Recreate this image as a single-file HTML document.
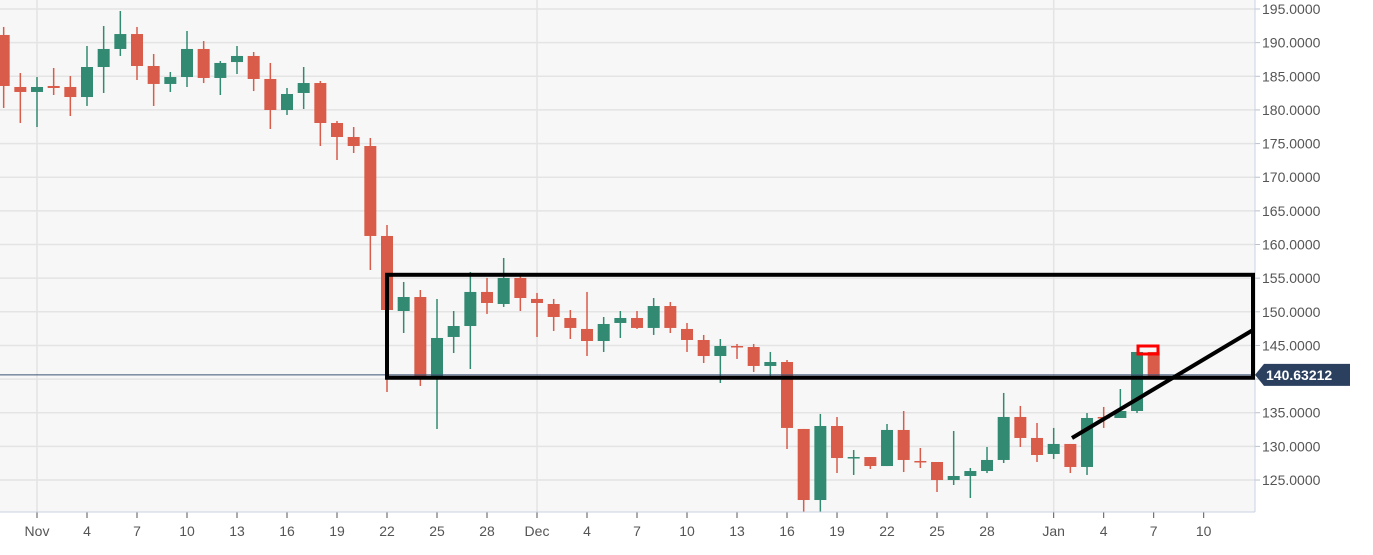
<!DOCTYPE html>
<html><head><meta charset="utf-8"><style>
html,body{margin:0;padding:0;background:#fff;}
svg{display:block;font-family:"Liberation Sans",sans-serif;}
</style></head><body>
<svg id="chart" width="1373" height="555">
<rect x="0" y="0" width="1255" height="512" fill="#f7f7f7"/>
<g id="grid"></g><g id="candles"></g><g id="axes"></g><g id="ann"></g>
</svg>
<script>
const opens=[191.14,183.41,182.67,183.56,183.41,181.92,186.38,189.06,191.28,186.53,183.86,184.89,189.06,184.75,187.12,188.02,184.60,179.99,182.52,184.00,178.06,175.98,174.64,161.27,150.12,152.20,140.31,146.26,147.89,152.95,151.16,155.03,151.91,151.16,149.08,147.45,145.66,148.34,149.08,147.60,150.86,147.45,145.81,143.43,144.92,144.77,141.95,142.54,132.59,122.03,133.03,128.27,128.42,127.08,132.44,127.83,127.68,125.00,125.60,126.34,127.98,134.37,131.25,128.87,130.36,126.94,134.37,134.22,135.26,144.03];
const highs=[192.33,185.49,184.89,186.23,185.04,189.50,192.47,194.70,192.33,188.31,185.64,191.73,190.24,187.27,189.50,188.61,186.98,183.26,186.38,184.30,178.36,177.46,175.83,162.90,154.43,153.24,151.91,150.12,155.92,155.03,158.00,155.62,152.80,151.91,150.27,152.95,149.23,150.12,150.12,152.05,151.46,148.34,146.56,145.96,145.22,145.22,144.03,142.84,132.59,134.82,134.37,129.46,128.42,133.33,135.26,129.76,127.68,132.29,126.79,129.91,137.94,136.01,133.48,132.74,130.36,134.96,135.86,138.53,144.03,144.03];
const lows=[180.29,178.06,177.46,182.22,179.10,180.59,182.52,188.02,184.45,180.59,182.67,183.41,184.00,182.22,185.34,182.81,177.17,179.25,180.14,174.64,172.56,173.60,156.21,138.08,146.85,138.98,132.59,143.88,141.50,149.68,150.72,150.12,146.26,147.15,145.96,143.43,144.03,146.11,147.45,146.56,146.85,144.03,142.39,139.42,142.99,141.06,140.16,129.61,120.25,120.25,126.04,125.75,126.64,127.08,126.19,126.79,123.22,124.26,122.33,126.04,127.53,129.91,127.68,128.13,126.04,125.75,132.74,134.22,134.96,140.31];
const closes=[183.56,182.67,183.41,183.26,181.92,186.38,189.06,191.28,186.53,183.86,184.89,189.06,184.75,186.98,188.02,184.60,179.99,182.37,184.00,178.06,175.98,174.64,161.27,150.27,152.20,140.31,146.11,147.89,152.95,151.31,155.03,152.05,151.31,149.23,147.60,145.66,148.19,149.08,147.60,150.86,147.60,145.81,143.43,144.92,144.77,141.95,142.54,132.74,122.03,133.03,128.27,128.42,127.08,132.44,127.98,127.68,125.00,125.60,126.34,127.98,134.37,131.25,128.72,130.36,126.94,134.22,134.22,135.26,144.03,140.31];
const yTicks=[195,190,185,180,175,170,165,160,155,150,145,140,135,130,125];
const xLabels=["Nov","4","7","10","13","16","19","22","25","28","Dec","4","7","10","13","16","19","22","25","28","Jan","4","7","10"];
const xLabelDays=[0,3,6,9,12,15,18,21,24,27,30,33,36,39,42,45,48,51,54,57,61,64,67,70];
const firstCandleDay=-2;
const lastPrice=140.63212;
const boxTop=155.5, boxBottom=140.2;

const NS="http://www.w3.org/2000/svg";
function yS(p){return 9+(195-p)*6.729;}
function xS(d){return 37+d*16.667;}
function mk(tag,attrs,parent){const e=document.createElementNS(NS,tag);for(const k in attrs)e.setAttribute(k,attrs[k]);parent.appendChild(e);return e;}
const grid=document.getElementById('grid'),cg=document.getElementById('candles'),ax=document.getElementById('axes'),an=document.getElementById('ann');
yTicks.forEach(t=>{
 const l=mk('line',{x1:0,x2:1255,y1:yS(t),y2:yS(t),stroke:'#e4e4e4','stroke-width':1.5},grid);
 
 
 mk('line',{x1:1255,x2:1260,y1:yS(t),y2:yS(t),stroke:'#b8c0d0'},ax);
 const tx=mk('text',{x:1262,y:yS(t)+5,'font-size':14,fill:'#555'},ax);tx.textContent=t.toFixed(4);
 
 
});
xLabels.forEach((lab,i)=>{
 const x=xS(xLabelDays[i]);
 if(lab==="Nov"||lab==="Dec"||lab==="Jan"){const v=mk('line',{x1:x,x2:x,y1:0,y2:512,stroke:'#e4e4e4','stroke-width':1.5},grid);
  
  }
 mk('line',{x1:x,x2:x,y1:512,y2:518,stroke:'#555'},ax);
 const tx=mk('text',{x:x,y:536,'font-size':14,fill:'#555','text-anchor':'middle'},ax);tx.textContent=lab;
 
 
});
mk('line',{x1:0,x2:1255,y1:512,y2:512,stroke:'#c8d0e0'},ax);
mk('line',{x1:1255,x2:1255,y1:0,y2:512,stroke:'#c8d0e0'},ax);
opens.forEach((o,i)=>{
 const c=closes[i],x=xS(firstCandleDay+i),up=c>=o,col=up?'#338a72':'#d95b49';
 const g=mk('g',{},cg);
 
 
 mk('line',{x1:x,x2:x,y1:yS(highs[i]),y2:yS(lows[i]),stroke:col,'stroke-width':1.5},g);
 const t=yS(Math.max(o,c)),b=yS(Math.min(o,c));
 mk('rect',{x:x-6,y:t,width:12,height:Math.max(1.5,b-t),fill:col},g);
});
// last price line & label
const ly=yS(lastPrice);
const pl=mk('line',{x1:0,x2:1255,y1:ly,y2:ly,stroke:'#3c5275','stroke-width':1},an);


// box
const bx=mk('rect',{x:xS(21),y:yS(boxTop),width:1253-xS(21),height:yS(boxBottom)-yS(boxTop),fill:'none',stroke:'#000','stroke-width':4},an);


const tl=mk('line',{x1:1072,y1:438,x2:1253,y2:330,stroke:'#000','stroke-width':4},an);


const rr=mk('rect',{x:1138,y:346,width:20,height:8,fill:'none',stroke:'#f00','stroke-width':3},an);


const lb=mk('path',{d:`M1255 ${ly} L1264 ${ly-11} L1350 ${ly-11} L1350 ${ly+11} L1264 ${ly+11} Z`,fill:'#2b3f5f'},an);


const lt=mk('text',{x:1266,y:ly+5,'font-size':14,'font-weight':'bold',fill:'#fff'},an);lt.textContent=lastPrice.toFixed(5);


</script>
</body></html>
